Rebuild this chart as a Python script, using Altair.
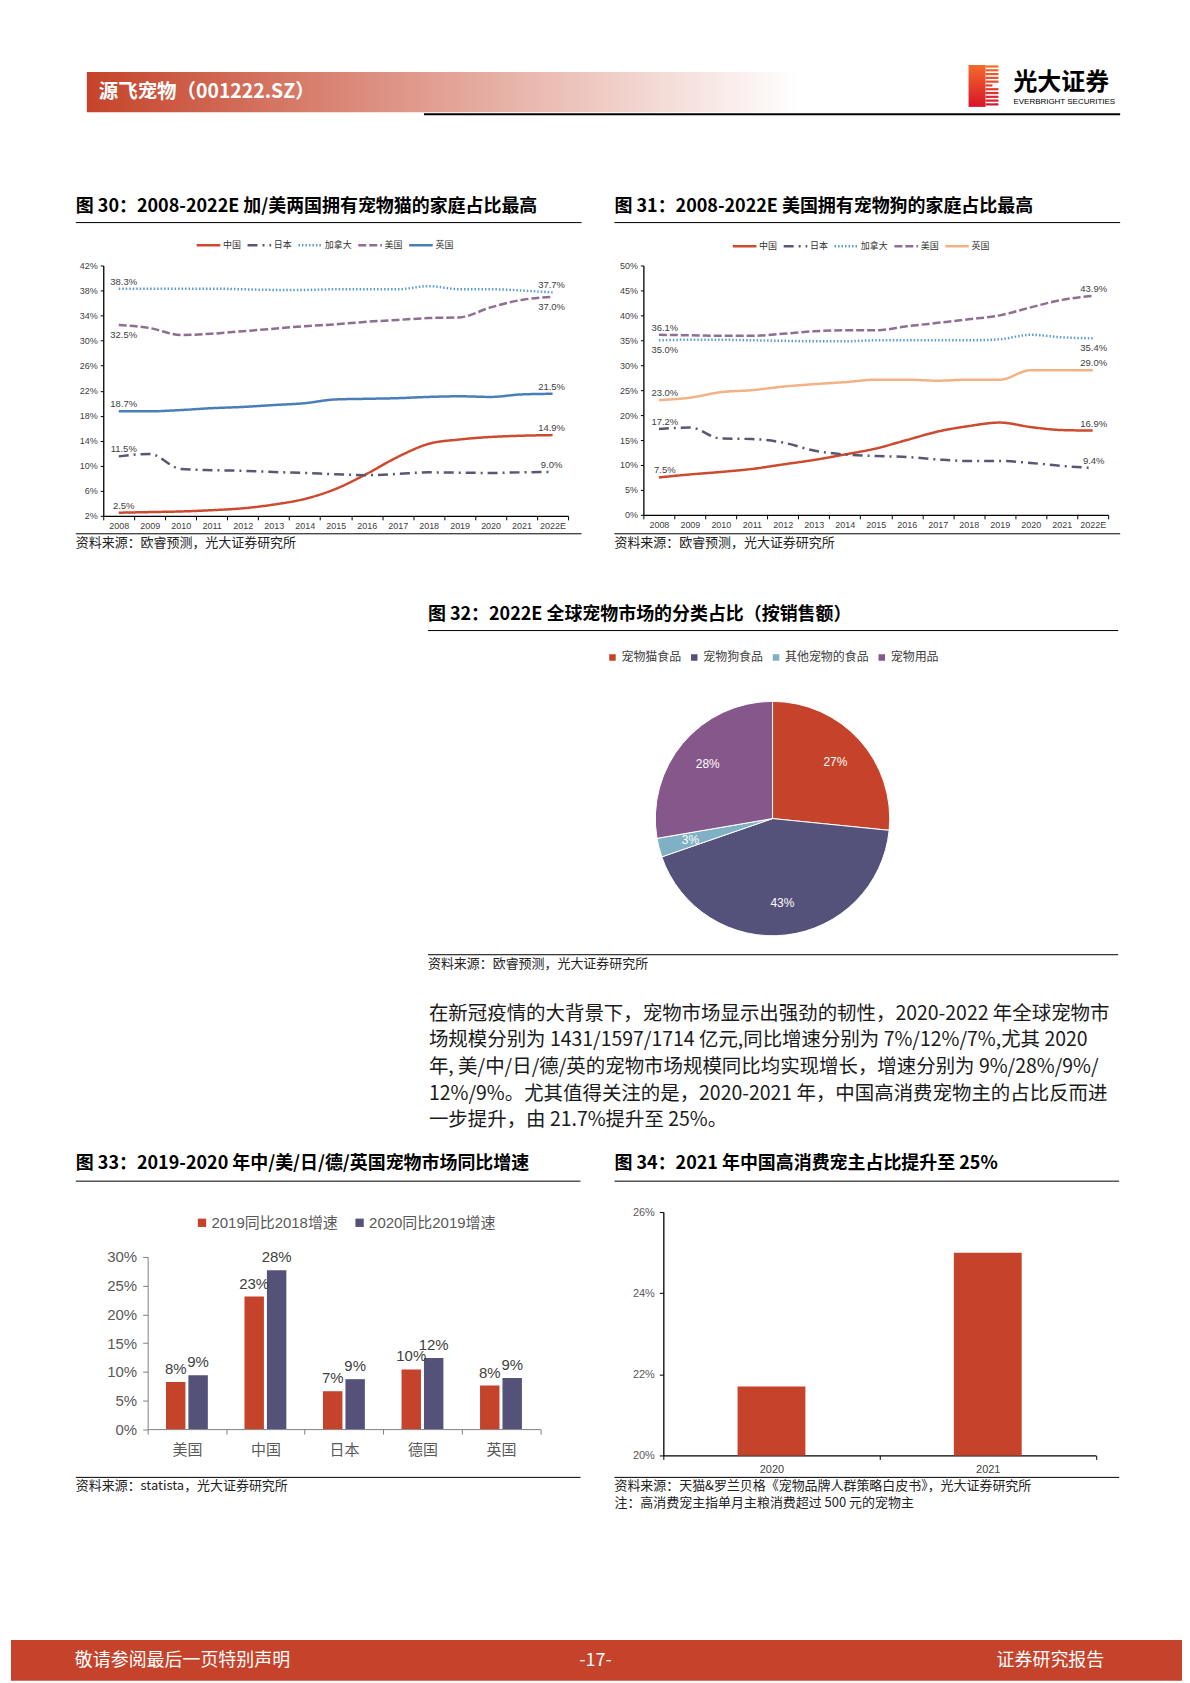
import altair as alt
import pandas as pd

LAT = "Liberation Sans, Noto Sans CJK SC"
CJK = "Noto Sans CJK SC"

# ---------------- data ----------------
years = ['2008', '2009', '2010', '2011', '2012', '2013', '2014', '2015',
         '2016', '2017', '2018', '2019', '2020', '2021', '2022E']
series_names = ['中国', '日本', '加拿大', '美国', '英国']

cat_china = [2.5, 2.6, 2.7, 2.9, 3.2, 3.8, 4.7, 6.3, 8.7, 11.4, 13.5, 14.2, 14.6, 14.8, 14.9]
cat_japan = [11.5, 11.9, 9.5, 9.3, 9.2, 9.0, 8.85, 8.65, 8.5, 8.7, 8.95, 8.9, 8.85, 8.95, 9.0]
cat_canada = [38.3, 38.3, 38.3, 38.3, 38.2, 38.1, 38.1, 38.2, 38.2, 38.2, 38.7, 38.2, 38.2, 38.0, 37.7]
cat_usa = [32.5, 32.0, 30.9, 31.1, 31.5, 31.9, 32.3, 32.6, 33.0, 33.3, 33.6, 33.7, 35.3, 36.5, 37.0]
cat_uk = [18.7, 18.7, 18.9, 19.2, 19.4, 19.7, 20.0, 20.6, 20.7, 20.8, 21.0, 21.1, 21.0, 21.4, 21.5]

dog_china = [7.5, 8.1, 8.6, 9.2, 10.1, 11.0, 12.1, 13.3, 15.0, 16.7, 17.8, 18.5, 17.6, 17.0, 16.9]
dog_japan = [17.2, 17.5, 15.3, 15.2, 14.5, 12.9, 12.1, 11.8, 11.6, 11.1, 10.8, 10.8, 10.4, 9.8, 9.4]
dog_canada = [35.0, 35.1, 35.1, 35.0, 34.9, 34.8, 34.8, 35.0, 35.0, 35.0, 35.0, 35.2, 36.1, 35.6, 35.4]
dog_usa = [36.1, 36.0, 35.9, 35.9, 36.3, 36.8, 37.0, 37.0, 37.8, 38.5, 39.2, 40.0, 41.6, 43.1, 43.9]
dog_uk = [23.0, 23.5, 24.6, 25.0, 25.7, 26.2, 26.6, 27.1, 27.1, 26.9, 27.1, 27.1, 29.0, 29.0, 29.0]

pie_cats = ['宠物猫食品', '宠物狗食品', '其他宠物的食品', '宠物用品']
pie_vals = [26.6, 43.1, 2.6, 27.7]

countries = ['美国', '中国', '日本', '德国', '英国']
bar_series = ['2019同比2018增速', '2020同比2019增速']
g2019 = [8.2, 23.1, 6.6, 10.4, 7.6]
g2020 = [9.4, 27.7, 8.7, 12.4, 8.9]

hc_years = ['2020', '2021']
hc_vals = [21.7, 25.0]

para_lines = [
    '在新冠疫情的大背景下，宠物市场显示出强劲的韧性，2020-2022 年全球宠物市',
    '场规模分别为 1431/1597/1714 亿元,同比增速分别为 7%/12%/7%,尤其 2020',
    '年, 美/中/日/德/英的宠物市场规模同比均实现增长，增速分别为 9%/28%/9%/',
    '12%/9%。尤其值得关注的是，2020-2021 年，中国高消费宠物主的占比反而进',
    '一步提升，由 21.7%提升至 25%。',
]

# ---------------- styles ----------------
RED = '#C5432A'
SLATE = '#55527A'
cat_colors = ['#CC4A2E', '#5A5675', '#5B9BD5', '#8E6E92', '#4A7EBB']
dog_colors = ['#CC4A2E', '#5A5675', '#5B9BD5', '#8E6E92', '#F4B183']
dashes = [[1, 0], [10, 5, 2, 5], [1.5, 2], [8, 3], [1, 0]]
pie_colors = [RED, '#54517A', '#7FB0C4', '#85578A']

dummy = pd.DataFrame({'d': [0]})


def T(text, x, y, size, color='#000', weight='normal', align='left', font=CJK):
    return alt.Chart(dummy).mark_text(text=text, fontSize=size, color=color, fontWeight=weight,
                                      align=align, baseline='middle', font=font).encode(
        x=alt.value(x), y=alt.value(y))


def R(x, x2, y, color='#000', w=1.0):
    return alt.Chart(dummy).mark_rule(color=color, strokeWidth=w).encode(
        x=alt.value(x), x2=alt.value(x2), y=alt.value(y))


def B(x, x2, y, y2, fill):
    return alt.Chart(dummy).mark_rect(fill=fill).encode(
        x=alt.value(x), x2=alt.value(x2), y=alt.value(y), y2=alt.value(y2))


def spacer(w, h):
    return alt.Chart(dummy).mark_point(opacity=0).encode(
        x=alt.value(0), y=alt.value(0)).properties(width=w, height=h)


def H(*charts, spacing=0):
    return alt.hconcat(*charts, spacing=spacing, bounds='flush').resolve_scale(
        color='independent', strokeDash='independent').resolve_legend(
        color='independent', strokeDash='independent')


def V(*charts, spacing=0):
    return alt.vconcat(*charts, spacing=spacing, bounds='flush').resolve_scale(
        color='independent', strokeDash='independent').resolve_legend(
        color='independent', strokeDash='independent')


# ---------------- line panels ----------------
def line_panel(vals, colors, ydom, ystep, below, dx08, dx22, w, h, lx, ly, fname):
    rows = []
    for name, vs in zip(series_names, vals):
        for yr, v in zip(years, vs):
            rows.append({'year': yr, fname: name, 'v': v, 'txt': f'{v:.1f}%'})
    df = pd.DataFrame(rows)
    xenc = alt.X('year:O', sort=years,
                 scale=alt.Scale(type='band', paddingInner=0, paddingOuter=0),
                 bandPosition=0.5,
                 axis=alt.Axis(title=None, grid=False, labelAngle=0, tickBand='extent',
                               labelFontSize=9, labelFont=LAT, labelColor='#404040',
                               domainColor='#000', domainWidth=1.3, tickColor='#000',
                               tickSize=4, labelPadding=2))
    yenc = alt.Y('v:Q', scale=alt.Scale(domain=ydom, nice=False, zero=False),
                 axis=alt.Axis(title=None, grid=False,
                               values=list(range(ydom[0], ydom[1] + 1, ystep)),
                               labelExpr="datum.value + '%'", labelFontSize=9,
                               labelFont=LAT, labelColor='#404040', domainColor='#000',
                               domainWidth=1.3, tickColor='#000', tickSize=3, labelPadding=3))
    leg = alt.Legend(orient='none', legendX=lx, legendY=ly, direction='horizontal',
                     columns=5, title=None, symbolType='stroke', symbolSize=560,
                     symbolStrokeWidth=2.4, labelFont=CJK, labelFontSize=9,
                     labelColor='#333', columnPadding=0, labelOffset=1, padding=0)
    color = alt.Color(f'{fname}:N', sort=series_names,
                      scale=alt.Scale(domain=series_names, range=colors), legend=leg)
    dash = alt.StrokeDash(f'{fname}:N', sort=series_names,
                          scale=alt.Scale(domain=series_names, range=dashes), legend=leg)
    layers = [alt.Chart(df).mark_line(interpolate='monotone', strokeWidth=2.5).encode(
        x=xenc, y=yenc, color=color, strokeDash=dash)]
    for yr, dx in (('2008', dx08), ('2022E', dx22)):
        for pos in ('above', 'below'):
            sub = [r for r in rows if r['year'] == yr and ((r[fname] in below) == (pos == 'below'))]
            if not sub:
                continue
            layers.append(alt.Chart(pd.DataFrame(sub)).mark_text(
                fontSize=9.5, font=LAT, color='#404040', dx=dx,
                dy=-7 if pos == 'above' else 10).encode(x=xenc, y=yenc, text='txt:N'))
    return alt.layer(*layers).properties(width=w, height=h)


chart30 = line_panel([cat_china, cat_japan, cat_canada, cat_usa, cat_uk], cat_colors,
                     [2, 42], 4, ['美国'], 5, -1, 466, 251, 92, -34, 'cat')
chart31 = line_panel([dog_china, dog_japan, dog_canada, dog_usa, dog_uk], dog_colors,
                     [0, 50], 5, ['加拿大'], 6, 1, 466, 250, 88, -33, 'dog')

# ---------------- pie ----------------
pie_df = pd.DataFrame({'kind': pie_cats, 'v': pie_vals, 'idx': list(range(len(pie_cats)))})
pie_df['txt'] = pie_df['v'].map(lambda v: f'{v:.0f}%')
pie_leg = alt.Legend(orient='none', legendX=-49, legendY=-50, direction='horizontal', columns=4,
                     title=None, symbolType='square', symbolSize=64, labelFont=CJK,
                     labelFontSize=12, labelColor='#404040', columnPadding=5, labelOffset=3,
                     padding=0)
arc = alt.Chart(pie_df).mark_arc(stroke='#ffffff', strokeWidth=1).encode(
    theta=alt.Theta('v:Q', stack=True),
    color=alt.Color('kind:N', sort=pie_cats, scale=alt.Scale(domain=pie_cats, range=pie_colors),
                    legend=pie_leg),
    order=alt.Order('idx:Q'))
arc_txt = alt.Chart(pie_df).mark_text(radius=85, fontSize=12, font=LAT, color='#ffffff').encode(
    theta=alt.Theta('v:Q', stack=True), order=alt.Order('idx:Q'), text='txt:N')
pie = alt.layer(arc, arc_txt).properties(width=235, height=235)

# ---------------- bar chart 33 ----------------
bar_rows = []
for c, a, b in zip(countries, g2019, g2020):
    bar_rows.append({'country': c, 'ser': bar_series[0], 'v': a, 'txt': f'{a:.0f}%'})
    bar_rows.append({'country': c, 'ser': bar_series[1], 'v': b, 'txt': f'{b:.0f}%'})
bar_df = pd.DataFrame(bar_rows)
bx = alt.X('country:N', sort=countries, scale=alt.Scale(paddingInner=0, paddingOuter=0),
           axis=alt.Axis(title=None, grid=False, labelAngle=0, tickBand='extent',
                         labelFontSize=15, labelFont=CJK, labelColor='#595959',
                         domainColor='#808080', tickColor='#808080', tickSize=5,
                         labelPadding=8))
bxo = alt.XOffset('ser:N', sort=bar_series, scale=alt.Scale(paddingInner=0.133, paddingOuter=0.817))
by = alt.Y('v:Q', scale=alt.Scale(domain=[0, 30], nice=False),
           axis=alt.Axis(title=None, grid=False, values=[0, 5, 10, 15, 20, 25, 30],
                         labelExpr="datum.value + '%'", labelFontSize=15, labelFont=LAT,
                         labelColor='#595959', domainColor='#808080', tickColor='#808080',
                         tickSize=5, labelPadding=6))
bar_leg = alt.Legend(orient='none', legendX=47, legendY=-42, direction='horizontal', columns=2,
                     title=None, symbolType='square', symbolSize=70, labelFont=LAT,
                     labelFontSize=15, labelColor='#595959', columnPadding=14, labelOffset=2,
                     padding=0)
bars33 = alt.Chart(bar_df).mark_bar().encode(
    x=bx, xOffset=bxo, y=by,
    color=alt.Color('ser:N', sort=bar_series, scale=alt.Scale(domain=bar_series, range=[RED, SLATE]),
                    legend=bar_leg))
bars33_txt = alt.Chart(bar_df).mark_text(fontSize=15, font=LAT, color='#404040', baseline='bottom',
                                         dy=-5).encode(x=bx, xOffset=bxo, y=by, text='txt:N')
chart33 = alt.layer(bars33, bars33_txt).properties(width=393.6, height=172.6)

# ---------------- bar chart 34 ----------------
hc_df = pd.DataFrame({'yr': hc_years, 'v': hc_vals})
chart34 = alt.Chart(hc_df).mark_bar(width=68, color=RED).encode(
    x=alt.X('yr:N', sort=hc_years, scale=alt.Scale(paddingInner=0, paddingOuter=0),
            axis=alt.Axis(title=None, grid=False, labelAngle=0, tickBand='extent',
                          labelFontSize=11, labelFont=LAT, labelColor='#404040',
                          domainColor='#000', domainWidth=1.3, tickColor='#000', tickSize=4,
                          labelPadding=4)),
    y=alt.Y('v:Q', scale=alt.Scale(domain=[20, 26], nice=False, zero=False),
            axis=alt.Axis(title=None, grid=False, values=[20, 22, 24, 26],
                          labelExpr="datum.value + '%'", labelFontSize=11, labelFont=LAT,
                          labelColor='#595959', domainColor='#000', domainWidth=1.3,
                          tickColor='#000', tickSize=4, labelPadding=5)),
    y2=alt.datum(20)).properties(width=433.7, height=244)

# ---------------- page decoration ----------------
grad_h = alt.LinearGradient(gradient='linear', x1=0, x2=1, y1=0, y2=0,
                            stops=[alt.GradientStop(offset=0, color=RED),
                                   alt.GradientStop(offset=1, color='#ffffff')])
grad_logo = alt.LinearGradient(gradient='linear', x1=0, x2=0, y1=0, y2=1,
                               stops=[alt.GradientStop(offset=0, color='#F26B2A'),
                                      alt.GradientStop(offset=1, color='#D9142B')])

src_a = '资料来源：欧睿预测，光大证券研究所'
TS = 18
SS = 13
deco_layers = [
    B(0, 1174, 0, 1675, '#ffffff'),
    B(76, 789, 62, 102.5, grad_h),
    T('源飞宠物（001222.SZ）', 88, 82, 19.5, '#ffffff', 'bold'),
    R(414, 1112, 104.5, '#000', 2),
    B(960, 977, 55, 97, grad_logo),
]
stripe_cols = ['#F26B2A', '#F0622A', '#EE592A', '#EC502A', '#EA482B', '#E63F2B',
               '#E3372B', '#E02E2B', '#DD262B', '#DB1E2B', '#D9162B']
for i, col in enumerate(stripe_cols):
    yy = 56.5 + i * 3.8
    xe = 990 if i not in (5,) else 984
    deco_layers.append(R(977, xe, yy, col, 2.2))
deco_layers += [
    T('光大证券', 1005, 73, 24, '#000', 'bold'),
    T('EVERBRIGHT SECURITIES', 1005, 92, 8, '#000', font=LAT),
    # fig 30 / 31
    T('图 30：2008-2022E 加/美两国拥有宠物猫的家庭占比最高', 65, 197, TS, '#000', 'bold'),
    R(65, 572, 213),
    R(65, 572, 525),
    T(src_a, 65, 534, SS, '#222'),
    T('图 31：2008-2022E 美国拥有宠物狗的家庭占比最高', 605, 197, TS, '#000', 'bold'),
    R(605, 1112, 213),
    R(605, 1112, 525),
    T(src_a, 605, 534, SS, '#222'),
    # fig 32
    T('图 32：2022E 全球宠物市场的分类占比（按销售额）', 418, 606, TS, '#000', 'bold'),
    R(418, 1110, 622),
    R(418, 1110, 947),
    T(src_a, 418, 956, SS, '#222'),
    # fig 33 / 34
    T('图 33：2019-2020 年中/美/日/德/英国宠物市场同比增速', 65, 1157, TS, '#000', 'bold'),
    R(65, 571, 1174),
    R(65, 571, 1471),
    T('资料来源：statista，光大证券研究所', 65, 1480, SS, '#222'),
    T('图 34：2021 年中国高消费宠主占比提升至 25%', 605, 1157, TS, '#000', 'bold'),
    R(605, 1111, 1174),
    R(605, 1111, 1471),
    T('资料来源：天猫&罗兰贝格《宠物品牌人群策略白皮书》，光大证券研究所', 605, 1480, SS, '#222'),
    T('注：高消费宠主指单月主粮消费超过 500 元的宠物主', 605, 1497, SS, '#222'),
    # footer
    B(0, 1174, 1634, 1675, RED),
    T('敬请参阅最后一页特别声明', 64, 1655, 18, '#ffffff'),
    T('-17-', 586, 1655, 18, '#ffffff', align='center'),
    T('证券研究报告', 1096, 1655, 18, '#ffffff', align='right'),
]
for i, line in enumerate(para_lines):
    deco_layers.append(T(line, 419, 1006 + 26.8 * i, 19.5, '#1a1a1a'))

deco = alt.layer(*deco_layers).properties(width=1174, height=256)

# ---------------- layout ----------------
# nested concat groups take no room in a flush layout, so spacers carry the offsets
row1 = H(spacer(17, 10), chart30, chart31, spacing=75.5)
row2 = H(spacer(645.5, 10), pie, spacing=0)
row3 = H(spacer(137, 10), V(spacer(10, 45), chart33, spacing=0), spacer(517, 10), chart34, spacing=0)

chart = V(deco, row1, spacer(10, 436.5), row2, spacer(10, 511.2), row3, spacing=0).properties(
    padding=0, background='#ffffff').configure_view(stroke=None)

chart.save('out.html', embed_options={'renderer': 'svg', 'actions': False})
